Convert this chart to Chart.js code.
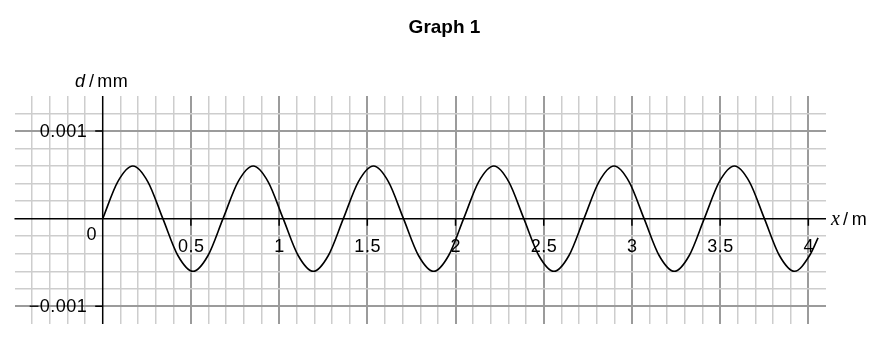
<!DOCTYPE html>
<html>
<head>
<meta charset="utf-8">
<script src="https://cdn.jsdelivr.net/npm/chart.js@4/dist/chart.umd.min.js"></script>
<style>
html,body{margin:0;padding:0;background:#fff;}
canvas{display:block;}
</style>
</head>
<body>
<canvas id="c" width="893" height="343"></canvas>
<script>
// ---- data ----
const titleText = 'Graph 1';
const xValues = [0, 0.085, 0.171, 0.256, 0.341, 0.426, 0.512, 0.597,
                 0.682, 0.767, 0.853, 0.938, 1.023, 1.108, 1.194, 1.279,
                 1.364, 1.449, 1.535, 1.620, 1.705, 1.790, 1.876, 1.961,
                 2.046, 2.131, 2.217, 2.302, 2.387, 2.472, 2.558, 2.643,
                 2.728, 2.813, 2.899, 2.984, 3.069, 3.154, 3.240, 3.325,
                 3.410, 3.495, 3.581, 3.666, 3.751, 3.836, 3.922, 4.007,
                 4.055];
const dValues = [0, 0.00042, 0.0006, 0.00042, 0, -0.00042, -0.0006, -0.00042,
                 0, 0.00042, 0.0006, 0.00042, 0, -0.00042, -0.0006, -0.00042,
                 0, 0.00042, 0.0006, 0.00042, 0, -0.00042, -0.0006, -0.00042,
                 0, 0.00042, 0.0006, 0.00042, 0, -0.00042, -0.0006, -0.00042,
                 0, 0.00042, 0.0006, 0.00042, 0, -0.00042, -0.0006, -0.00042,
                 0, 0.00042, 0.0006, 0.00042, 0, -0.00042, -0.0006, -0.00042,
                 -0.00022];
const xTickValues = [0.5, 1, 1.5, 2, 2.5, 3, 3.5, 4];
const xTickLabels = ['0.5', '1', '1.5', '2', '2.5', '3', '3.5', '4'];
const yTickValues = [0.001, -0.001];
const yTickLabels = ['0.001', '\u22120.001'];
const originLabel = '0';
const yAxisTitle = ['d', '/', 'mm'];
const xAxisTitle = ['x', '/', 'm'];

const points = xValues.map((v, i) => ({x: v, y: dValues[i]}));

const SANS = '"Liberation Sans", Arial, Helvetica, sans-serif';
const SERIF = '"Liberation Serif", "Times New Roman", serif';

function xGridColor(c) {
  const k = Math.round(c.tick.value * 10);
  if (k === 0 || k <= -5 || k >= 41) return 'rgba(0,0,0,0)';
  return (k % 5 === 0) ? '#9b9b9b' : '#cdcdcd';
}
function xGridWidth(c) {
  const k = Math.round(c.tick.value * 10);
  return (k % 5 === 0) ? 2 : 1.5;
}
function yGridColor(c) {
  const k = Math.round(c.tick.value / 0.0002);
  if (k === 0 || k <= -6 || k >= 7) return 'rgba(0,0,0,0)';
  return (Math.abs(k) === 5) ? '#9b9b9b' : '#cdcdcd';
}
function yGridWidth(c) {
  const k = Math.round(c.tick.value / 0.0002);
  return (Math.abs(k) === 5) ? 2 : 1.5;
}

const overlay = {
  id: 'overlay',
  beforeDatasetsDraw(chart) {
    const {ctx, chartArea: a} = chart;
    const xs = chart.scales.x, ys = chart.scales.y;
    const x0 = xs.getPixelForValue(0), y0 = ys.getPixelForValue(0);
    ctx.save();
    // axes + tick marks
    ctx.strokeStyle = '#000';
    ctx.lineWidth = 1.5;
    ctx.beginPath();
    ctx.moveTo(a.left, y0); ctx.lineTo(a.right, y0);
    ctx.moveTo(x0, a.top); ctx.lineTo(x0, a.bottom);
    xTickValues.forEach(v => {
      const p = xs.getPixelForValue(v);
      ctx.moveTo(p, y0); ctx.lineTo(p, y0 + 7);
    });
    yTickValues.forEach(v => {
      const p = ys.getPixelForValue(v);
      ctx.moveTo(x0, p); ctx.lineTo(x0 - 7.5, p);
    });
    ctx.stroke();

    // tick labels
    ctx.fillStyle = '#000';
    ctx.font = '18px ' + SANS;
    try { ctx.letterSpacing = '0.5px'; } catch (e) {}
    ctx.textBaseline = 'alphabetic';
    ctx.textAlign = 'center';
    xTickValues.forEach((v, i) => {
      ctx.fillText(xTickLabels[i], xs.getPixelForValue(v) + 0.3, y0 + 33.3);
    });
    ctx.fillText(originLabel, x0 - 10.9, y0 + 21.5);
    ctx.textAlign = 'right';
    yTickValues.forEach((v, i) => {
      ctx.fillText(yTickLabels[i], x0 - 15.5, ys.getPixelForValue(v) + 6);
    });

    // axis titles
    ctx.textAlign = 'left';
    const ty = a.top - 9.2;
    ctx.font = 'italic 18px ' + SANS;
    ctx.fillText(yAxisTitle[0], x0 - 27.7, ty);
    ctx.font = '18px ' + SANS;
    ctx.fillText(yAxisTitle[1], x0 - 13.7, ty);
    ctx.fillText(yAxisTitle[2], x0 - 5.4, ty);

    const tx = a.right;
    const by = y0 + 6.5;
    ctx.font = 'italic 20px ' + SERIF;
    ctx.fillText(xAxisTitle[0], tx + 5, by);
    ctx.font = '18px ' + SANS;
    ctx.fillText(xAxisTitle[1], tx + 17, by);
    ctx.fillText(xAxisTitle[2], tx + 25.7, by);

    // title
    try { ctx.letterSpacing = '0px'; } catch (e) {}
    ctx.font = 'bold 19px ' + SANS;
    ctx.textAlign = 'center';
    ctx.fillText(titleText, 444.5, 32.5);
    ctx.restore();
  }
};

new Chart(document.getElementById('c'), {
  type: 'line',
  data: {
    datasets: [{
      data: points,
      borderColor: '#000',
      borderWidth: 1.6,
      pointRadius: 0,
      fill: false,
      cubicInterpolationMode: 'monotone'
    }]
  },
  options: {
    responsive: false,
    animation: false,
    devicePixelRatio: 1,
    layout: {padding: {left: 14.5, right: 67, top: 95.9, bottom: 19.1}},
    plugins: {legend: {display: false}, tooltip: {enabled: false}, title: {display: false}},
    scales: {
      x: {
        type: 'linear', min: -0.5, max: 4.1,
        ticks: {display: false, stepSize: 0.1, autoSkip: false},
        grid: {drawTicks: false, color: xGridColor, lineWidth: xGridWidth},
        border: {display: false}
      },
      y: {
        type: 'linear', min: -0.0012, max: 0.0014,
        ticks: {display: false, stepSize: 0.0002},
        grid: {drawTicks: false, color: yGridColor, lineWidth: yGridWidth},
        border: {display: false}
      }
    }
  },
  plugins: [overlay]
});
</script>
</body>
</html>
